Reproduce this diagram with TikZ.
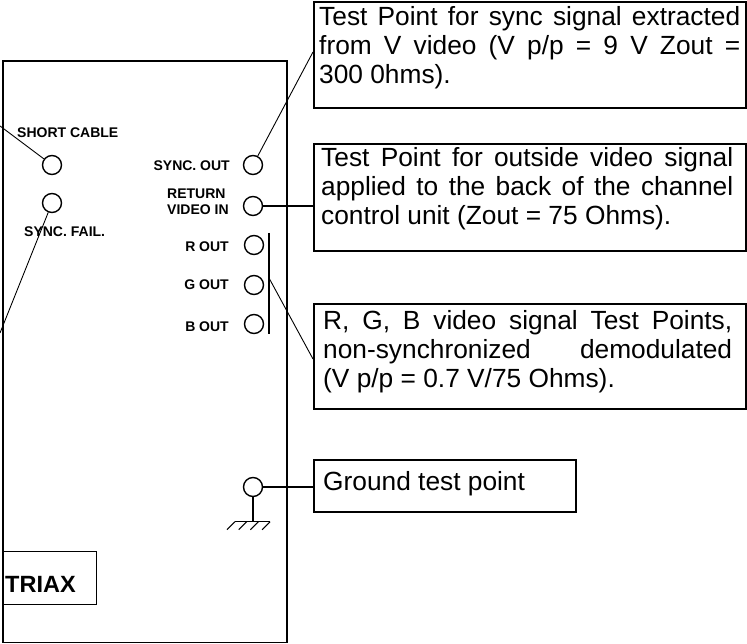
\documentclass[tikz,border=0pt]{standalone}
\usepackage{fontspec}
\setmainfont{Liberation Sans}
\begin{document}
\begin{tikzpicture}[x=1pt,y=-1pt,
  panel/.style={draw, line width=1.4pt},
  tp/.style={circle, draw, line width=1.4pt, minimum size=19pt, inner sep=0pt},
  lbl/.style={font=\fontsize{14}{16}\selectfont\bfseries, inner sep=0pt},
  callout/.style={draw, line width=1.9pt, inner sep=0pt, anchor=north west},
  txt/.style={font=\fontsize{26.3}{29}\selectfont, inner sep=0pt, anchor=base west},
  lead/.style={line width=0.9pt},
  wire/.style={line width=1.5pt}]
\useasboundingbox (0,0) rectangle (747,644);
% panel
\draw[panel] (3,61) rectangle (287,642.5);
% test point circles
\node[tp] (sc) at (52,165) {};
\node[tp] (sf) at (52,203) {};
\node[tp] (so) at (253,165) {};
\node[tp] (rv) at (253,206) {};
\node[tp] (ro) at (254,245) {};
\node[tp] (go) at (254,285) {};
\node[tp] (bo) at (254,324) {};
\node[tp] (gt) at (253,487) {};
% panel labels
\node[lbl, anchor=base west] (lsc) at (17,138) {SHORT CABLE};
\node[lbl, anchor=base west] (lsf) at (24,237) {SYNC. FAIL.};
\node[lbl, anchor=base east] (lso) at (230,171) {SYNC. OUT};
\node[lbl, anchor=base west] (lrv1) at (167,199) {RETURN};
\node[lbl, anchor=base west] (lrv2) at (167,215) {VIDEO IN};
\node[lbl, anchor=base east] (lro) at (229,252) {R OUT};
\node[lbl, anchor=base east] (lgo) at (229,290) {G OUT};
\node[lbl, anchor=base east] (lbo) at (229,331) {B OUT};
% TRIAX
\node[draw, line width=1.4pt, minimum width=93pt, minimum height=53pt, inner sep=0pt, anchor=north west] (triaxbox) at (3,551) {};
\node[font=\fontsize{23.5}{28}\selectfont\bfseries, anchor=base west, inner sep=0pt] (triax) at (5,592) {TRIAX};
% callout boxes
\node[callout, minimum width=432pt, minimum height=106pt] (b1) at (313,1) {};
\node[callout, minimum width=432pt, minimum height=107pt] (b2) at (313,143) {};
\node[callout, minimum width=432pt, minimum height=105pt] (b3) at (313,303) {};
\node[callout, minimum width=262pt, minimum height=52pt] (b4) at (313,459) {};
\node[txt] (t1) at (319,26) {\parbox[t]{421pt}{\makebox[421pt][s]{Test Point for sync signal extracted}\\\makebox[421pt][s]{from V video (V p/p = 9 V Zout =}\\300 0hms).}};
\node[txt] (t2) at (321,167) {\parbox[t]{412pt}{\makebox[412pt][s]{Test Point for outside video signal}\\\makebox[412pt][s]{applied to the back of the channel}\\control unit (Zout = 75 Ohms).}};
\node[txt] (t3) at (323,330) {\parbox[t]{409pt}{\makebox[409pt][s]{R, G, B video signal Test Points,}\\\makebox[409pt][s]{non-synchronized demodulated}\\(V p/p = 0.7 V/75 Ohms).}};
\node[txt] (t4) at (323,490) {Ground test point};
% connectors
\coordinate (scend) at (0,126);
\coordinate (sfend) at (0,333);
\coordinate (b1p) at (313,52);
\coordinate (rgbtop) at (269,233);
\coordinate (rgbbot) at (269,334);
\coordinate (rgbmid) at (269,278);
\coordinate (b3p) at (313,359);
\draw[lead] (scend) -- (sc);
\draw[lead] (sf) -- (sfend);
\draw[lead] (so) -- (b1p);
\draw[wire] (rv) -- (rv -| b2.west);
\draw[wire] (rgbtop) -- (rgbbot);
\draw[lead] (rgbmid) -- (b3p);
\draw[wire] (gt) -- (gt -| b4.west);
% ground symbol
\draw[wire] (gt.south) -- ++(0,24.5) coordinate (gnd);
\draw[wire] ([xshift=-18pt]gnd) -- ([xshift=17pt]gnd);
\foreach \i in {0,1,2,3} {
  \draw[line width=1.1pt] ([xshift=-18pt+\i*11.7pt]gnd) -- ++(-8,8);
}
\end{tikzpicture}
\end{document}
